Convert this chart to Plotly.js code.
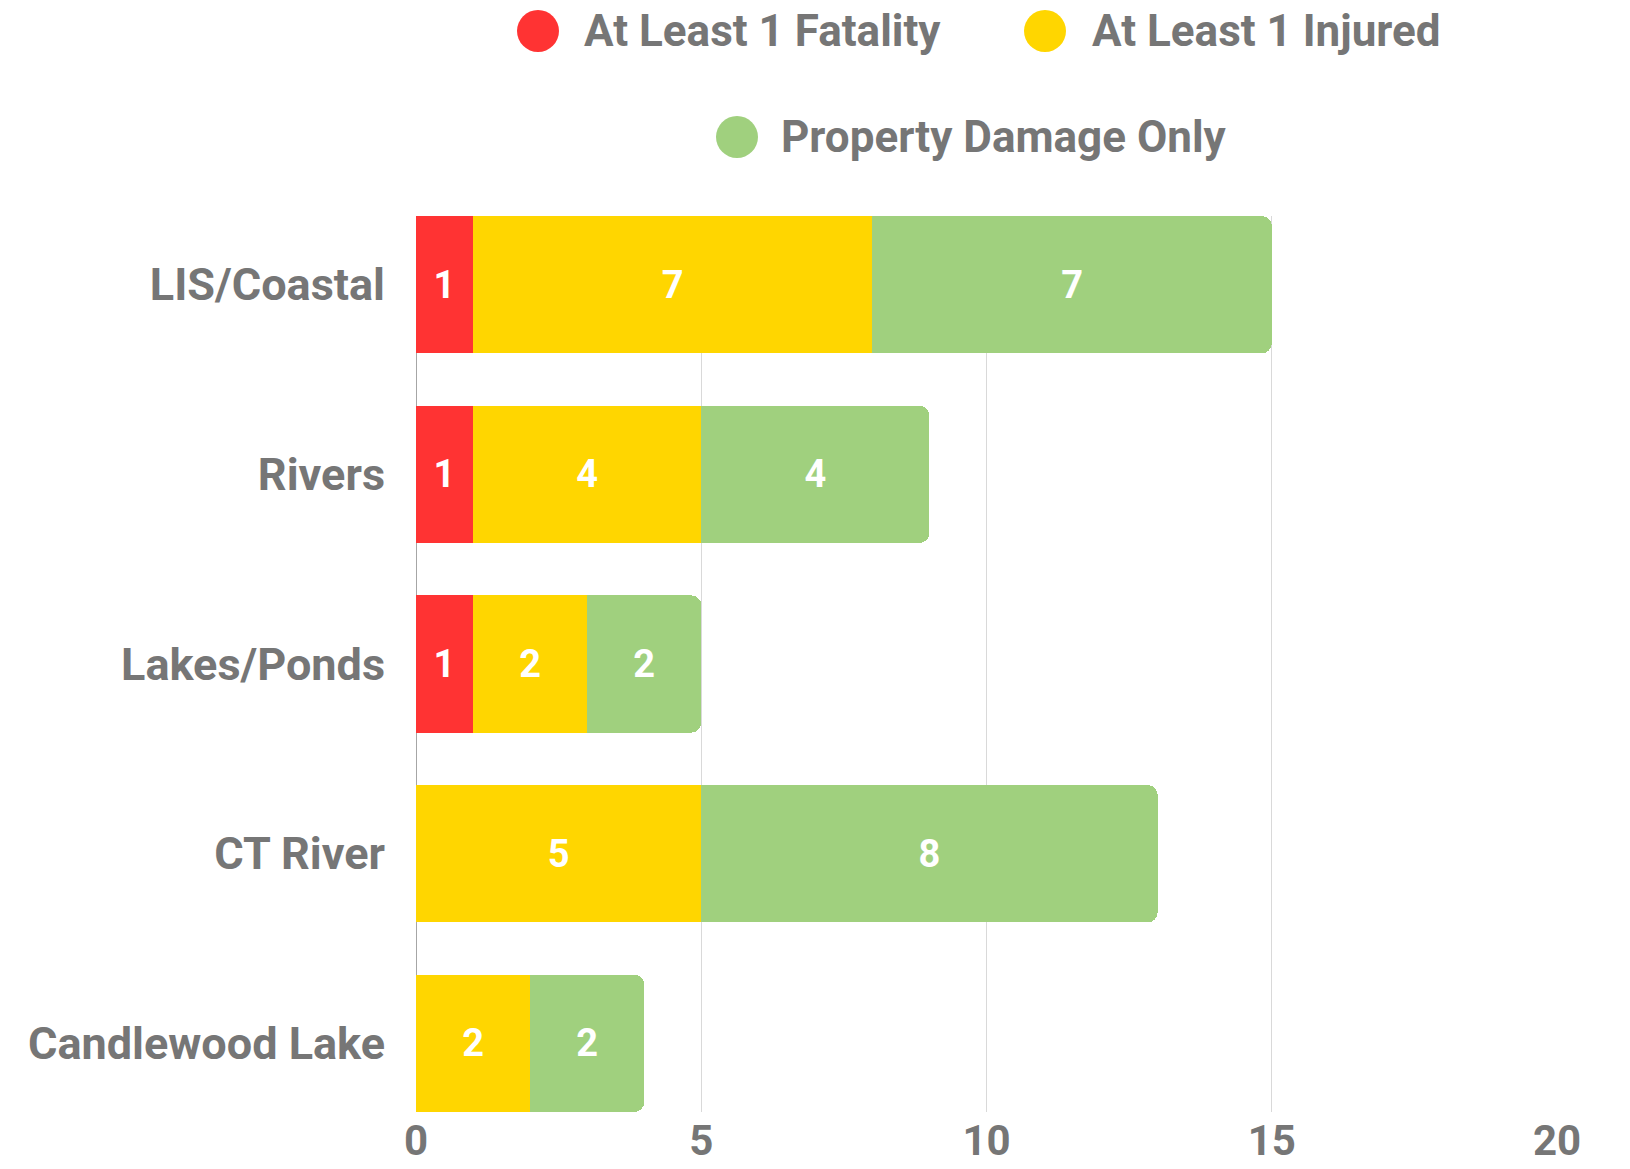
<!DOCTYPE html>
<html>
<head>
<meta charset="utf-8">
<script src="https://cdn.plot.ly/plotly-3.0.1.min.js"></script>
<style>
  html, body { margin: 0; padding: 0; background: #ffffff; }
  #chart { width: 1630px; height: 1169px; }
</style>
</head>
<body>
<div id="chart"></div>
<script>
// ---- data ----
const categories = ["LIS/Coastal", "Rivers", "Lakes/Ponds", "CT River", "Candlewood Lake"];
const seriesNames = ["At Least 1 Fatality", "At Least 1 Injured", "Property Damage Only"];
const fatality = [1, 1, 1, 0, 0];
const injured = [7, 4, 2, 5, 2];
const propertyOnly = [7, 4, 2, 8, 2];
const xTicks = [0, 5, 10, 15, 20];

// ---- styling ----
const colors = ["#ff3333", "#ffd600", "#a0d07e"];
const grey = "#767676";
const boldSans = "Roboto, 'Noto Sans', sans-serif";

const seriesValues = [fatality, injured, propertyOnly];

const traces = seriesValues.map((vals, i) => ({
  type: "bar",
  orientation: "h",
  name: seriesNames[i],
  y: categories,
  x: vals,
  marker: { color: colors[i], line: { width: 0 } },
  text: vals.map(v => (v ? String(v) : "")),
  textposition: "inside",
  insidetextanchor: "middle",
  textfont: { color: "#ffffff", size: 38, family: boldSans, weight: 700 },
  hoverinfo: "x+y+name",
  showlegend: false
}));

// plot area in pixels (for placing the custom legend)
const L = 416, R = 73, T = 216, B = 57, W = 1630, H = 1169;
const pw = W - L - R, ph = H - T - B;
const px = p => (p - L) / pw;
const py = p => (H - B - p) / ph;

const legendItems = [
  { cx: 538, cy: 31, tx: 582 },
  { cx: 1045, cy: 31, tx: 1090 },
  { cx: 737, cy: 137, tx: 779 }
];

const shapes = legendItems.map((it, i) => ({
  type: "circle",
  xref: "paper", yref: "paper",
  xsizemode: "pixel", ysizemode: "pixel",
  xanchor: px(it.cx), yanchor: py(it.cy),
  x0: -21, x1: 21, y0: -21, y1: 21,
  fillcolor: colors[i],
  line: { width: 0 }
}));

const annotations = legendItems.map((it, i) => ({
  xref: "paper", yref: "paper",
  x: px(it.tx), y: py(it.cy),
  xanchor: "left", yanchor: "middle",
  text: seriesNames[i],
  showarrow: false,
  font: { family: boldSans, size: 44, color: grey, weight: 700 }
}));

const layout = {
  width: W,
  height: H,
  margin: { l: L, r: R, t: T, b: B, pad: 0 },
  paper_bgcolor: "#ffffff",
  plot_bgcolor: "#ffffff",
  barmode: "stack",
  bargap: 0.276,
  barcornerradius: 10,
  showlegend: false,
  font: { family: boldSans, color: grey },
  xaxis: {
    range: [0, 20],
    tickvals: xTicks,
    ticktext: xTicks.map(String),
    showgrid: true,
    gridcolor: "#d9d9d9",
    gridwidth: 1,
    zeroline: true,
    zerolinecolor: "#a6a6a6",
    zerolinewidth: 1,
    showline: false,
    ticks: "",
    ticklabelstandoff: 0,
    tickfont: { family: boldSans, size: 42, color: grey, weight: 700 },
    fixedrange: true
  },
  yaxis: {
    type: "category",
    categoryorder: "array",
    categoryarray: categories,
    range: [4.362, -0.362],
    showgrid: false,
    zeroline: false,
    showline: false,
    ticks: "",
    ticklabelstandoff: 30,
    tickfont: { family: boldSans, size: 45, color: grey, weight: 700 },
    fixedrange: true
  },
  shapes: shapes,
  annotations: annotations
};

Plotly.newPlot("chart", traces, layout, { displayModeBar: false, staticPlot: true });
</script>
</body>
</html>
